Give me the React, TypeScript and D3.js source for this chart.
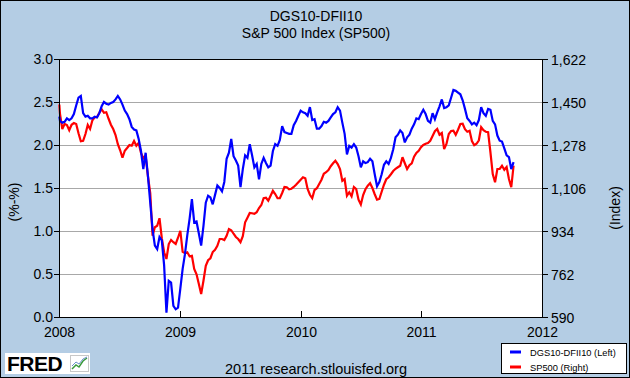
import React from 'react';
import * as d3 from 'd3';

const dates = [
  '2008-01-02',
  '2008-01-04','2008-01-11','2008-01-18','2008-01-25','2008-02-01','2008-02-08','2008-02-15','2008-02-22','2008-02-29',
  '2008-03-07','2008-03-14','2008-03-21','2008-03-28','2008-04-04','2008-04-11','2008-04-18','2008-04-25',
  '2008-05-02','2008-05-09','2008-05-16','2008-05-23','2008-05-30','2008-06-06','2008-06-13','2008-06-20','2008-06-27',
  '2008-07-04','2008-07-11','2008-07-18','2008-07-25','2008-08-01','2008-08-08','2008-08-15','2008-08-22','2008-08-29',
  '2008-09-05','2008-09-12','2008-09-19','2008-09-26','2008-10-03','2008-10-10','2008-10-17','2008-10-24','2008-10-31',
  '2008-11-07','2008-11-14','2008-11-21','2008-11-28','2008-12-05','2008-12-12','2008-12-19','2008-12-26',
  '2009-01-02','2009-01-09','2009-01-16','2009-01-23','2009-01-30','2009-02-06','2009-02-13','2009-02-20','2009-02-27',
  '2009-03-06','2009-03-13','2009-03-20','2009-03-27','2009-04-03','2009-04-10','2009-04-17','2009-04-24',
  '2009-05-01','2009-05-08','2009-05-15','2009-05-22','2009-05-29','2009-06-05','2009-06-12','2009-06-19','2009-06-26',
  '2009-07-03','2009-07-10','2009-07-17','2009-07-24','2009-07-31','2009-08-07','2009-08-14','2009-08-21','2009-08-28',
  '2009-09-04','2009-09-11','2009-09-18','2009-09-25','2009-10-02','2009-10-09','2009-10-16','2009-10-23','2009-10-30',
  '2009-11-06','2009-11-13','2009-11-20','2009-11-27','2009-12-04','2009-12-11','2009-12-18','2009-12-25',
  '2010-01-01','2010-01-08','2010-01-15','2010-01-22','2010-01-29','2010-02-05','2010-02-12','2010-02-19','2010-02-26',
  '2010-03-05','2010-03-12','2010-03-19','2010-03-26','2010-04-02','2010-04-09','2010-04-16','2010-04-23','2010-04-30',
  '2010-05-07','2010-05-14','2010-05-21','2010-05-28','2010-06-04','2010-06-11','2010-06-18','2010-06-25',
  '2010-07-02','2010-07-09','2010-07-16','2010-07-23','2010-07-30','2010-08-06','2010-08-13','2010-08-20','2010-08-27',
  '2010-09-03','2010-09-10','2010-09-17','2010-09-24','2010-10-01','2010-10-08','2010-10-15','2010-10-22','2010-10-29',
  '2010-11-05','2010-11-12','2010-11-19','2010-11-26','2010-12-03','2010-12-10','2010-12-17','2010-12-24','2010-12-31',
  '2011-01-07','2011-01-14','2011-01-21','2011-01-28','2011-02-04','2011-02-11','2011-02-18','2011-02-25',
  '2011-03-04','2011-03-11','2011-03-18','2011-03-25','2011-04-01','2011-04-08','2011-04-15','2011-04-22','2011-04-29',
  '2011-05-06','2011-05-13','2011-05-20','2011-05-27','2011-06-03','2011-06-10','2011-06-17','2011-06-24',
  '2011-07-01','2011-07-08','2011-07-15','2011-07-22','2011-07-29','2011-08-05','2011-08-12','2011-08-19','2011-08-26',
  '2011-09-02','2011-09-09','2011-09-16','2011-09-23','2011-09-30','2011-10-07',
];

const dgsValues = [
  2.33,
  2.28, 2.26, 2.27, 2.31, 2.29, 2.31, 2.36, 2.46, 2.55, 2.57, 2.37, 2.33, 2.34, 2.31, 2.31, 2.33, 2.32,
  2.37, 2.45, 2.50, 2.48, 2.47, 2.49, 2.50, 2.53, 2.57, 2.53, 2.47, 2.40, 2.36, 2.30, 2.21, 2.18, 2.17, 2.07,
  1.93, 1.72, 1.91, 1.64, 1.33, 1.02, 0.83, 0.79, 0.93, 0.89, 0.60, 0.05, 0.42, 0.40, 0.13, 0.09, 0.11,
  0.33, 0.56, 0.73, 0.95, 1.14, 1.37, 1.10, 1.11, 0.97, 0.83, 1.06, 1.33, 1.41, 1.39, 1.31, 1.42, 1.53, 1.50,
  1.46, 1.57, 1.84, 1.91, 2.07, 1.87, 1.82, 1.76, 1.51, 1.72, 1.88, 1.85, 2.01, 1.88, 1.74, 1.78, 1.60,
  1.78, 1.85, 1.79, 1.74, 1.76, 1.93, 2.01, 1.99, 2.06, 2.22, 2.15, 2.14, 2.13, 2.13, 2.23, 2.28, 2.34, 2.40,
  2.38, 2.37, 2.34, 2.44, 2.29, 2.30, 2.19, 2.19, 2.22, 2.27, 2.26, 2.28, 2.32, 2.36, 2.38, 2.44, 2.40,
  2.26, 2.13, 1.89, 1.99, 1.97, 2.01, 1.97, 1.87, 1.74, 1.81, 1.79, 1.80, 1.84, 1.81, 1.66, 1.52, 1.57, 1.66,
  1.77, 1.81, 1.78, 1.85, 1.95, 2.09, 2.12, 2.17, 2.14, 2.03, 2.09, 2.12, 2.19, 2.24, 2.31, 2.30, 2.36,
  2.41, 2.36, 2.28, 2.26, 2.37, 2.30, 2.38, 2.45, 2.53, 2.43, 2.44, 2.46, 2.55, 2.64, 2.63, 2.61, 2.59, 2.52,
  2.42, 2.31, 2.28, 2.24, 2.26, 2.23, 2.29, 2.44, 2.37, 2.34, 2.42, 2.41, 2.28, 2.24, 2.11, 2.05, 2.04,
  1.96, 1.88, 1.86, 1.72, 1.80,
];

const sp500Values = [
  1440,
  1402, 1342, 1362, 1358, 1337, 1359, 1366, 1362, 1325, 1293, 1295, 1322, 1358, 1342, 1377, 1389, 1390,
  1407, 1421, 1407, 1409, 1383, 1359, 1342, 1318, 1281, 1257, 1227, 1255, 1266, 1278, 1275, 1294, 1275, 1286,
  1246, 1225, 1235, 1153, 1086, 915, 949, 955, 985, 905, 849, 822, 882, 898, 889, 882, 907,
  935, 851, 846, 849, 833, 835, 782, 761, 722, 682, 735, 795, 817, 825, 850, 859, 875, 902,
  902, 898, 915, 942, 937, 923, 910, 902, 889, 913, 969, 987, 1006, 1005, 1003, 1009, 1026,
  1038, 1065, 1067, 1055, 1075, 1095, 1082, 1065, 1065, 1086, 1110, 1109, 1101, 1103, 1110, 1119, 1129, 1139,
  1149, 1145, 1102, 1079, 1065, 1098, 1105, 1122, 1139, 1163, 1169, 1178, 1193, 1205, 1215, 1202, 1182,
  1135, 1142, 1075, 1089, 1073, 1110, 1102, 1059, 1040, 1078, 1101, 1115, 1125, 1106, 1081, 1059, 1062, 1091,
  1119, 1141, 1149, 1161, 1174, 1183, 1189, 1195, 1229, 1205, 1182, 1197, 1205, 1231, 1246, 1255, 1269,
  1278, 1283, 1286, 1295, 1314, 1333, 1342, 1319, 1326, 1262, 1282, 1322, 1334, 1335, 1319, 1339, 1362, 1363,
  1341, 1331, 1335, 1294, 1277, 1283, 1297, 1349, 1337, 1331, 1329, 1249, 1162, 1129, 1182, 1182, 1195,
  1179, 1190, 1142, 1109, 1195,
];

const leftTicks = [0, 0.5, 1.0, 1.5, 2.0, 2.5, 3.0];
const rightTicks = [590, 762, 934, 1106, 1278, 1450, 1622];
const yearTicks = ['2008', '2009', '2010', '2011', '2012'];
const titleLines = ['DGS10-DFII10', 'S&P 500 Index (SP500)'];
const legendLabels = ['DGS10-DFII10 (Left)', 'SP500 (Right)'];
const seriesColors = ['#0000ff', '#ff0000'];

const FONT = '"Liberation Sans", Arial, Helvetica, sans-serif';
const BG = '#b4cde4';

export default function App() {
  const W = 630, H = 378;
  const L = 59, R = 542, T = 59, B = 317;
  const parse = d3.timeParse('%Y-%m-%d');
  const x = d3.scaleTime()
    .domain([parse('2008-01-01') as Date, parse('2012-01-01') as Date])
    .range([L, R]);
  const yL = d3.scaleLinear().domain([0, 3]).range([B, T]);
  const yR = d3.scaleLinear().domain([590, 1622]).range([B, T]);
  const parsed = dates.map((d) => parse(d) as Date);

  const blueLine = d3.line<number>()
    .x((_, i) => x(parsed[i]))
    .y((v) => yL(v))(dgsValues) as string;
  const redLine = d3.line<number>()
    .x((_, i) => x(parsed[i]))
    .y((v) => yR(v))(sp500Values) as string;

  const fmtL = d3.format('.1f');
  const fmtR = d3.format(',');

  return (
    <svg width={W} height={H} style={{ position: 'absolute', left: 0, top: 0 }} fontFamily={FONT}>
      <rect x={0.5} y={0.5} width={W - 1} height={H - 1} fill={BG} stroke="#000" strokeWidth={1} />
      {titleLines.map((t, i) => (
        <text key={t} x={316} y={21 + i * 17} textAnchor="middle" fontSize={14} fill="#000">{t}</text>
      ))}
      <rect x={L} y={T} width={R - L} height={B - T} fill="#fff" />
      {leftTicks.slice(1, -1).map((v) => (
        <line key={'g' + v} x1={L} x2={R} y1={Math.round(yL(v)) + 0.5} y2={Math.round(yL(v)) + 0.5} stroke="#a8a8a8" strokeWidth={1} />
      ))}
      <path d={redLine} fill="none" stroke={seriesColors[1]} strokeWidth={2.2} strokeLinejoin="miter" strokeMiterlimit={3} />
      <path d={blueLine} fill="none" stroke={seriesColors[0]} strokeWidth={2.2} strokeLinejoin="miter" strokeMiterlimit={3} />
      <rect x={L + 0.5} y={T + 0.5} width={R - L} height={B - T} fill="none" stroke="#000" strokeWidth={1} />
      {leftTicks.map((v) => (
        <g key={'l' + v}>
          <line x1={L - 5} x2={L} y1={Math.round(yL(v)) + 0.5} y2={Math.round(yL(v)) + 0.5} stroke="#000" />
          <text x={L - 6} y={yL(v)} dy="0.35em" textAnchor="end" fontSize={14} fill="#000">{fmtL(v)}</text>
        </g>
      ))}
      {rightTicks.map((v) => (
        <g key={'r' + v}>
          <line x1={R} x2={R + 6} y1={Math.round(yR(v)) + 0.5} y2={Math.round(yR(v)) + 0.5} stroke="#000" />
          <text x={R + 9} y={yR(v) + 1} dy="0.35em" textAnchor="start" fontSize={14} fill="#000">{fmtR(v)}</text>
        </g>
      ))}
      {yearTicks.map((yr) => {
        const xp = Math.round(x(parse(yr + '-01-01') as Date)) + 0.5;
        return (
          <g key={yr}>
            <line x1={xp} x2={xp} y1={B} y2={B - 6} stroke="#000" />
            <text x={xp} y={337} textAnchor="middle" fontSize={14} fill="#000">{yr}</text>
          </g>
        );
      })}
      <text transform={`translate(19,${(T + B) / 2 + 14}) rotate(-90)`} textAnchor="middle" fontSize={14} fill="#000">(%-%)</text>
      <text transform={`translate(620,${(T + B) / 2 + 20}) rotate(-90)`} textAnchor="middle" fontSize={14} fill="#000">(Index)</text>

      <rect x={501.5} y={343.5} width={125} height={30} fill="#fff" stroke="#000" />
      {legendLabels.map((lab, i) => (
        <g key={lab}>
          <line x1={510} x2={521} y1={352 + i * 15} y2={352 + i * 15} stroke={seriesColors[i]} strokeWidth={3} />
          <text x={530} y={355.5 + i * 15} fontSize={9.3} fill="#000">{lab}</text>
        </g>
      ))}

      <text x={316} y={374} textAnchor="middle" fontSize={14.5} fill="#000">2011 research.stlouisfed.org</text>

      <rect x={5} y={353} width={85} height={21} fill="#fff" />
      <text x={7} y={371} fontSize={21} fontWeight="bold" fill="#000" letterSpacing={-0.5}>FRED</text>
      <rect x={70.5} y={355.5} width={18} height={16} fill="#fff" stroke="#c8c8c8" />
      <polyline points="72,369 76,365 79,367 83,361 87,358" fill="none" stroke="#3a9a3a" strokeWidth={1.5} />
      <polyline points="72,366 76,362 79,364 83,359 87,357" fill="none" stroke="#6a8fc8" strokeWidth={1} />
    </svg>
  );
}
